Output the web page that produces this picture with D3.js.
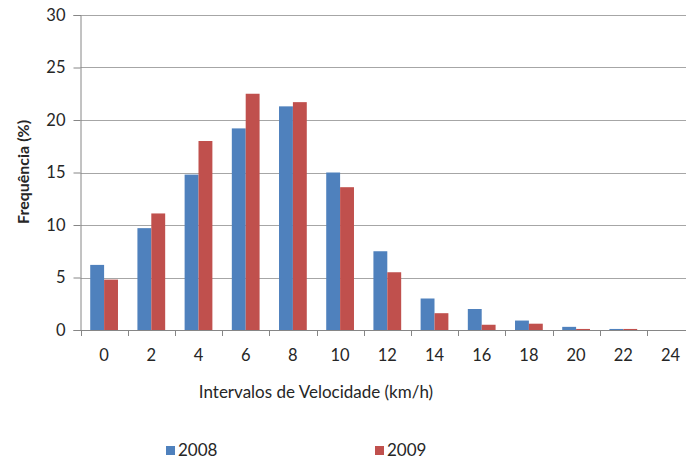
<!DOCTYPE html>
<html>
<head>
<meta charset="utf-8">
<script src="https://cdn.jsdelivr.net/npm/d3@7"></script>
<style>
  html, body { margin: 0; padding: 0; background: #fff; }
  svg text { font-family: Lato, "Open Sans", "Liberation Sans", sans-serif; fill: #262626; }
</style>
</head>
<body>
<svg id="chart" width="686" height="462"></svg>
<script>
// Speed intervals (km/h) and frequency (%) for each year
const categories = ["0", "2", "4", "6", "8", "10", "12", "14", "16", "18", "20", "22", "24"];
const series2008 = [6.2, 9.7, 14.8, 19.2, 21.3, 15.0, 7.5, 3.0, 2.0, 0.9, 0.3, 0.1, 0];
const series2009 = [4.8, 11.1, 18.0, 22.5, 21.7, 13.6, 5.5, 1.6, 0.5, 0.6, 0.1, 0.1, 0];
const yTicks = [0, 5, 10, 15, 20, 25, 30];
const seriesNames = ["2008", "2009"];
const colors = ["#4F81BD", "#C0504D"];

const svg = d3.select("#chart");
const plotLeft = 80.5, plotTop = 15, plotBottom = 330;
const bandW = 47.2;
const plotRight = plotLeft + bandW * categories.length;

const x = d3.scaleBand().domain(categories).range([plotLeft, plotRight]).paddingInner(0).paddingOuter(0);
const xs = d3.scaleBand().domain(seriesNames).range([0, x.bandwidth()]).paddingInner(0).paddingOuter(0.7);
const y = d3.scaleLinear().domain([0, 30]).range([plotBottom, plotTop]);

// horizontal gridlines
svg.append("g").selectAll("line").data(yTicks.filter(t => t > 0)).join("line")
  .attr("x1", plotLeft).attr("x2", 686)
  .attr("y1", d => Math.round(y(d)) + 0.5).attr("y2", d => Math.round(y(d)) + 0.5)
  .attr("stroke", "#a6a6a6").attr("stroke-width", 1);

// bars
const rows = categories.map((c, i) => ({ c, vals: [series2008[i], series2009[i]] }));
const groups = svg.append("g").selectAll("g").data(rows).join("g")
  .attr("transform", d => `translate(${x(d.c)},0)`);
groups.selectAll("rect").data(d => d.vals.map((v, j) => ({ v, s: seriesNames[j], j }))).join("rect")
  .attr("x", d => xs(d.s))
  .attr("width", xs.bandwidth())
  .attr("y", d => y(d.v))
  .attr("height", d => plotBottom - y(d.v))
  .attr("fill", d => colors[d.j]);

// y axis
const yAxis = d3.axisLeft(y).tickValues(yTicks).tickSize(7).tickPadding(8);
const gy = svg.append("g").attr("transform", `translate(${plotLeft},0)`).call(yAxis);
gy.select(".domain").attr("stroke", "#868686");
gy.selectAll(".tick line").attr("stroke", "#868686");
gy.selectAll(".tick text").style("font-size", "16.5px").attr("fill", "#262626");

// x axis
const xAxis = d3.axisBottom(x).tickSize(0).tickPadding(19);
const gx = svg.append("g").attr("transform", `translate(0,${plotBottom})`).call(xAxis);
gx.select(".domain").attr("d", `M${plotLeft},0.5H686`).attr("stroke", "#868686");
gx.selectAll(".tick text").style("font-size", "16.5px").attr("fill", "#262626");
// tick marks between categories
svg.append("g").selectAll("line").data(categories).join("line")
  .attr("x1", d => Math.round(x(d)) + 0.5).attr("x2", d => Math.round(x(d)) + 0.5)
  .attr("y1", plotBottom).attr("y2", plotBottom + 6)
  .attr("stroke", "#868686");

// axis titles
svg.append("text").attr("x", 316).attr("y", 398).attr("text-anchor", "middle")
  .style("font-size", "17px").text("Intervalos de Velocidade (km/h)");
svg.append("text").attr("transform", "translate(29,172) rotate(-90)").attr("text-anchor", "middle")
  .style("font-size", "16px").style("font-weight", "bold").text("Frequência (%)");

// legend
const legendX = [166, 375];
const lg = svg.append("g").selectAll("g").data(seriesNames).join("g")
  .attr("transform", (d, i) => `translate(${legendX[i]},446)`);
lg.append("rect").attr("width", 9).attr("height", 9).attr("fill", (d, i) => colors[i]);
lg.append("text").attr("x", 12).attr("y", 10).style("font-size", "17px").text(d => d);
</script>
</body>
</html>
